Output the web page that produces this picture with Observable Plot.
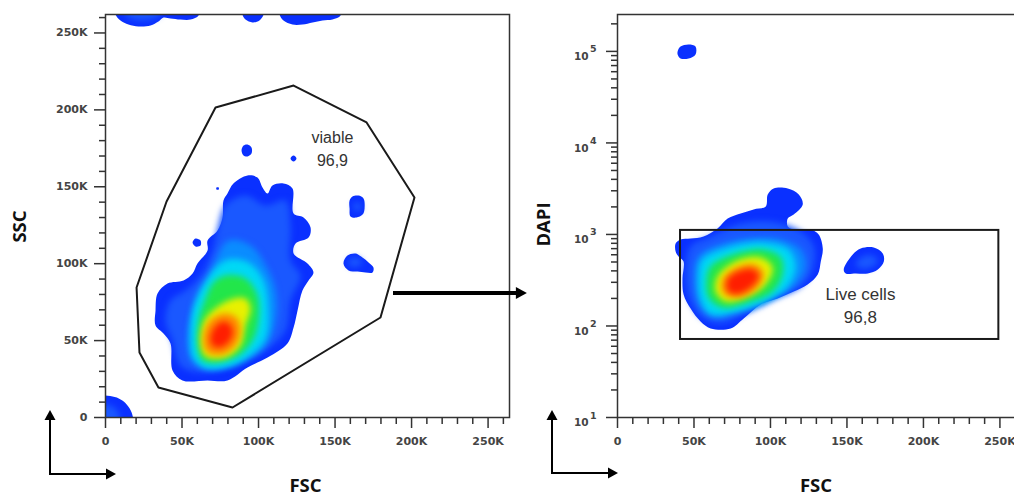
<!DOCTYPE html>
<html><head><meta charset="utf-8">
<script src="https://cdn.jsdelivr.net/npm/d3@7"></script>
<script src="https://cdn.jsdelivr.net/npm/@observablehq/plot@0.6"></script>
<style>
body{margin:0;background:#fff;}
#wrap{position:relative;width:1014px;height:498px;overflow:hidden;background:#fff;}
#wrap > svg{position:absolute;top:0;}
</style></head><body><div id="wrap"></div>
<script>
// ---------- axis ticks (values in thousands for FSC/SSC) ----------
const fscTicks = [0, 50, 100, 150, 200, 250];
const fscTickLabels = ["0", "50K", "100K", "150K", "200K", "250K"];
const sscTicks = [0, 50, 100, 150, 200, 250];
const sscTickLabels = ["0", "50K", "100K", "150K", "200K", "250K"];
const dapiTicks = [10, 100, 1000, 10000, 100000];
const dapiTickBase = "10";
const dapiTickExponents = ["1", "2", "3", "4", "5"];
const axisTitles = ["FSC", "SSC", "DAPI"];

// ---------- left panel: FSC vs SSC ----------
const gateViable = [[71.9,201.5],[122.9,215.8],[170.6,191.8],[201.9,143.0],[179.7,65.0],[83.0,6.5],[34.6,19.5],[22.2,42.3],[20.3,84.5],[39.9,140.4]];
const gateViableLabel = ["viable", "96,9"];
const gateViableLabelAt = [148.3, 175.5];

const leftOuter = [
  [[79.7,145.6],[83.6,152.1],[92.8,157.3],[99.3,156.0],[102.6,149.5],[105.9,145.6],[109.1,150.8],[116.3,152.1],[122.2,148.9],[122.9,132.6],[129.4,130.0],[134.0,123.5],[132.7,117.0],[124.2,113.1],[122.9,106.6],[132.0,100.1],[135.9,94.3],[132.7,89.1],[128.7,82.6],[125.5,69.6],[122.9,58.5],[118.9,48.1],[105.9,39.0],[92.8,32.5],[79.7,24.1],[66.7,24.1],[50.3,24.1],[43.8,30.6],[42.5,48.1],[37.9,54.6],[32.7,59.8],[32.7,69.6],[34.0,80.6],[40.5,87.1],[51.0,89.1],[56.9,93.6],[60.1,100.1],[66.7,108.6],[66.7,115.1],[73.2,121.6],[76.5,130.0],[77.1,141.1]],
  [[88.9,173.6],[90.2,176.8],[92.8,177.5],[95.4,175.5],[95.4,171.6],[92.8,169.7],[90.2,170.3]],
  [[120.9,168.4],[122.9,170.3],[124.8,168.4],[122.9,166.4]],
  [[159.5,141.1],[161.4,143.7],[165.3,144.3],[168.6,142.4],[169.3,135.9],[168.0,131.9],[164.0,130.0],[160.1,130.7],[159.5,135.9]],
  [[155.5,100.1],[158.1,105.3],[163.4,106.6],[167.9,104.0],[171.9,100.8],[175.1,97.5],[174.5,94.3],[169.9,94.3],[164.7,94.9],[158.8,95.6]],
  [[56.9,113.8],[58.8,116.4],[62.1,115.1],[62.1,111.8],[58.8,111.2]],
  [[72.5,149.5],[74.0,149.5],[74.0,148.3],[72.5,148.3]],
  [[-3,-3],[-3,13.5],[6,13.3],[11,11],[15,7],[17.5,2],[17.6,-3]],
  [[6.5,262.0],[9.8,258.1],[15.0,255.5],[21.6,254.2],[29.4,254.8],[34.6,257.4],[37.9,260.0],[42.5,259.4],[49.0,258.7],[55.5,258.7],[60.8,261.3],[60.8,266],[6.5,266]],
  [[89.5,262],[91.5,258.7],[96.1,256.8],[100.6,258.1],[103.3,262],[103.3,266],[89.5,266]],
  [[113.7,262],[116.3,258.1],[122.2,255.5],[128.7,255.5],[135.3,256.8],[141.8,258.1],[148.3,258.7],[153.6,261.3],[153.6,266],[113.7,266]]
];
const leftLevel1 = [
  [[78.4,137.8],[91.5,144.3],[104.6,137.8],[117.6,141.1],[120.9,124.8],[120.9,102.1],[127.4,92.3],[120.9,76.1],[117.6,56.6],[104.6,43.6],[85.0,33.8],[62.1,29.3],[49.0,33.8],[43.8,50.1],[39.2,63.1],[42.5,76.1],[52.3,82.6],[62.1,92.3],[69.9,108.6],[73.8,124.8]],
  [[-3,-3],[-3,8],[4,7.5],[8,4],[9,-3]],
  [[13.1,262],[19.6,258.6],[29.4,258.9],[35.9,262],[35.9,266],[13.1,266]],
  [[162,139],[166,139.5],[167,135],[163,134.5]],
  [[159,102.5],[164,104],[168,101],[164,98],[159,99]]
];
const leftLevel2 = [[[80.4,115.1],[94.8,111.8],[104.6,98.8],[111.1,82.6],[111.1,63.1],[104.6,46.8],[88.2,37.1],[68.6,32.5],[56.9,37.1],[53.6,50.1],[56.9,66.3],[65.4,82.6],[71.9,102.1]]];
const leftLevel3 = [[[78.4,102.1],[93.5,100.8],[103.3,89.1],[106.5,69.6],[104.6,51.4],[94.8,40.3],[81.7,33.2],[65.4,31.9],[57.5,38.4],[55.5,53.3],[57.5,72.8],[65.4,89.1]]];
const leftLevel4 = [[[78.4,92.3],[91.5,90.4],[99.3,79.3],[100.0,63.1],[96.1,50.1],[86.9,40.3],[73.8,35.8],[63.4,37.1],[60.1,46.8],[60.8,63.1],[65.4,77.4],[70.6,87.8]]];
const leftLevel5 = [[[80.4,76.1],[91.5,77.4],[94.8,70.9],[91.5,59.8],[88.2,46.8],[78.4,39.0],[65.4,39.7],[62.1,48.8],[65.4,64.4]]];
const leftLevel6 = [[[77.1,67.6],[85.6,65.0],[88.2,56.6],[85.0,46.8],[76.5,41.0],[66.7,42.3],[64.0,50.1],[67.3,61.8]]];
const leftLevel7 = [[[76.4,62.3],[81.6,60.2],[83.2,55.0],[80.6,49.3],[75.4,45.7],[70.1,46.7],[68.6,51.9],[71.1,58.2]]];

// ---------- right panel: FSC vs DAPI ----------
const gateLive = [41.2, 249.3, 71.2, 1107]; // x1, x2, y1, y2
const gateLiveLabel = ["Live cells", "96,8"];
const gateLiveLabelAt = [158.8, 174];

const rightOuter = [
  [[38.0,797],[41.2,881],[47.8,903],[56.3,951],[65.4,1164],[72.0,1496],[80.5,1698],[89.0,1877],[96.9,2023],[98.2,2736],[102.1,3184],[111.3,3184],[118.5,2736],[121.1,2128],[115.2,1655],[111.3,1496],[111.3,1223],[115.2,1135],[126.3,1135],[131.5,1000],[134.2,703],[132.9,507],[130.9,365],[124.3,284],[115.2,238],[104.7,200],[93.6,172],[82.5,121],[74.0,94],[60.9,94],[54.3,112],[47.8,155],[43.2,221],[42.5,330],[43.2,507],[39.9,575],[38.0,652]],
  [[39.3,100000],[41.2,113400],[46.5,119300],[51.0,113400],[51.0,92700],[46.5,83800],[41.2,83800],[39.3,92700]],
  [[147.9,414],[153.8,604],[159.0,703],[167.5,721],[173.4,620],[174.1,507],[170.2,414],[163.6,375],[155.8,375],[149.2,375]]
];
const rightLevel1 = [
  [[47.8,740],[60.9,951],[80.5,1318],[100.1,1387],[119.8,1079],[128.3,740],[127.6,414],[119.8,270],[103.4,200],[83.8,137],[67.4,106],[54.3,127],[46.5,210],[44.5,394]],
  [[155.8,482],[160.3,575],[166.9,589],[170.2,507],[165.6,436],[159.0,425]]
];
const rightLevel2 = [[[53.0,575],[67.4,778],[87.0,903],[106.7,881],[119.8,686],[123.0,447],[116.5,284],[100.1,200],[80.5,151],[64.1,127],[54.3,163],[50.4,306]]];
const rightLevel3 = [[[55.6,533],[72.6,721],[94.9,818],[111.9,686],[116.5,447],[111.3,270],[96.9,185],[77.2,141],[60.9,134],[54.3,195],[53.0,348]]];
const rightLevel4 = [[[60.9,447],[75.3,604],[94.9,686],[106.7,561],[108.0,375],[101.4,238],[85.7,181],[68.7,159],[59.6,205],[58.2,322]]];
const rightLevel5 = [[[65.4,348],[77.2,507],[93.6,561],[101.4,436],[96.9,284],[83.8,205],[70.7,185],[64.1,238]]];
const rightLevel6 = [[[68.7,322],[77.9,436],[89.7,470],[95.5,375],[91.0,257],[79.2,205],[69.4,226]]];
const rightLevel7 = [[[72.0,322],[79.2,394],[88.4,414],[92.3,356],[88.4,277],[79.2,226],[72.6,238]]];

// ---------- styling ----------
const levelColors = ["#0a30ff", "#1a58ff", "#0a8cff", "#00d8f5", "#22e64a", "#e8f000", "#ff8a00", "#ff1e00"];
const tickFont = "DejaVu Sans, Verdana, sans-serif";
const titleFont = "Open Sans, sans-serif";

function rows(polys, tag) {
  return polys.flatMap((ring, i) => ring.map(([x, y]) => ({x, y, z: tag + i})));
}
function layerMarks(levels) {
  return levels.map((polys, k) => Plot.line(rows(polys, "L" + k + "_"), {
    x: "x", y: "y", z: "z", fill: levelColors[k], stroke: "none",
    curve: "catmull-rom-closed", clip: true,
    imageFilter: k === 0 ? undefined : "blur(3px)"
  }));
}
function minorLinear(major) {
  return d3.range(0, 261, 10).filter(v => !major.includes(v));
}
const logMinor = [];
for (let e = 1; e <= 5; e++) for (let m = 2; m <= 9; m++) {
  const v = m * Math.pow(10, e);
  if (v <= 250000) logMinor.push(v);
}
const axisCommon = {stroke: "#333", strokeWidth: 1.5, label: null};
const labelCommon = {fontFamily: tickFont, fontSize: 11, fontWeight: "bold", fill: "#444"};
const titleStyle = {fontFamily: titleFont, fontWeight: "bold", fontSize: 18.5, fill: "#111", textAnchor: "middle", lineAnchor: "middle"};

// ---------- left plot ----------
const left = Plot.plot({
  width: 530, height: 498,
  marginLeft: 105, marginRight: 21, marginTop: 14, marginBottom: 81,
  x: {domain: [0, 264]},
  y: {domain: [0, 262]},
  style: {background: "transparent", overflow: "visible"},
  marks: [
    ...layerMarks([leftOuter, leftLevel1, leftLevel2, leftLevel3, leftLevel4, leftLevel5, leftLevel6, leftLevel7]),
    Plot.line(gateViable.map(([x, y]) => ({x, y})), {x: "x", y: "y", curve: "linear-closed", stroke: "#1a1a1a", strokeWidth: 2}),
    Plot.text([gateViableLabel.join("\n")], {x: () => gateViableLabelAt[0], y: () => gateViableLabelAt[1], text: d => d, fontFamily: "Liberation Sans, Arial", fontSize: 16, lineHeight: 1.42, fill: "#333", lineAnchor: "middle"}),
    Plot.frame({stroke: "#333", strokeWidth: 1.5}),
    Plot.axisX(minorLinear(fscTicks), {...axisCommon, tickSize: 7, tickFormat: () => ""}),
    Plot.axisX(fscTicks, {...axisCommon, ...labelCommon, tickSize: 11, tickPadding: 9, tickFormat: d => fscTickLabels[fscTicks.indexOf(d)]}),
    Plot.axisY(minorLinear(sscTicks), {...axisCommon, tickSize: 6, tickFormat: () => ""}),
    Plot.axisY(sscTicks, {...axisCommon, ...labelCommon, tickSize: 11, tickPadding: 7, tickFormat: d => sscTickLabels[sscTicks.indexOf(d)]}),
    Plot.text([axisTitles[0]], {...titleStyle, frameAnchor: "bottom", dy: 69, dx: -2}),
    Plot.text([axisTitles[1]], {...titleStyle, frameAnchor: "left", dx: -85, dy: 10.5, rotate: -90})
  ]
});
left.style.left = "0px";

// ---------- right plot ----------
const right = Plot.plot({
  width: 500, height: 498,
  marginLeft: 87, marginRight: 12, marginTop: 14, marginBottom: 81,
  x: {domain: [0, 262.144]},
  y: {type: "log", domain: [10, 253000]},
  style: {background: "transparent", overflow: "visible"},
  marks: [
    ...layerMarks([rightOuter, rightLevel1, rightLevel2, rightLevel3, rightLevel4, rightLevel5, rightLevel6, rightLevel7]),
    Plot.rect([gateLive], {x1: d => d[0], x2: d => d[1], y1: d => d[2], y2: d => d[3], fill: "none", stroke: "#1a1a1a", strokeWidth: 2}),
    Plot.text([gateLiveLabel.join("\n")], {x: () => gateLiveLabelAt[0], y: () => gateLiveLabelAt[1], text: d => d, fontFamily: "Liberation Sans, Arial", fontSize: 17, lineHeight: 1.35, fill: "#333", lineAnchor: "middle"}),
    Plot.frame({stroke: "#333", strokeWidth: 1.5}),
    Plot.axisX(minorLinear(fscTicks), {...axisCommon, tickSize: 7, tickFormat: () => ""}),
    Plot.axisX(fscTicks, {...axisCommon, ...labelCommon, tickSize: 11, tickPadding: 9, tickFormat: d => fscTickLabels[fscTicks.indexOf(d)]}),
    Plot.axisY(logMinor, {...axisCommon, tickSize: 6, tickFormat: () => ""}),
    Plot.axisY(dapiTicks, {...axisCommon, tickSize: 11, tickFormat: () => ""}),
    Plot.text(dapiTicks, {y: d => d, frameAnchor: "left", dx: -29, dy: 5.5, text: () => dapiTickBase, textAnchor: "end", lineAnchor: "middle", fontFamily: tickFont, fontSize: 10.5, fontWeight: "bold", fill: "#444"}),
    Plot.text(dapiTicks, {y: d => d, frameAnchor: "left", dx: -27.5, dy: -2, text: (d, i) => dapiTickExponents[i], textAnchor: "start", lineAnchor: "middle", fontFamily: tickFont, fontSize: 9.5, fontWeight: "bold", fill: "#444"}),
    Plot.text([axisTitles[0]], {...titleStyle, frameAnchor: "bottom", dy: 69, dx: -2}),
    Plot.text([axisTitles[2]], {...titleStyle, frameAnchor: "left", dx: -73, dy: 8.5, rotate: -90})
  ]
});
right.style.left = "530px";

const wrap = document.getElementById("wrap");
wrap.appendChild(left);
wrap.appendChild(right);

// ---------- decorative arrows ----------
const ov = d3.select(wrap).append("svg")
  .attr("width", 1014).attr("height", 498)
  .style("left", "0px").style("pointer-events", "none");
const ink = "#000";
function arrow(x1, y1, x2, y2, w, head) {
  ov.append("line").attr("x1", x1).attr("y1", y1).attr("x2", x2).attr("y2", y2)
    .attr("stroke", ink).attr("stroke-width", w);
  const ang = Math.atan2(y2 - y1, x2 - x1);
  const L = head, W = head * 0.55;
  const tx = x2 + Math.cos(ang) * L * 0.9, ty = y2 + Math.sin(ang) * L * 0.9;
  const bx = x2 - Math.cos(ang) * L * 0.1, by = y2 - Math.sin(ang) * L * 0.1;
  const px = -Math.sin(ang) * W, py = Math.cos(ang) * W;
  ov.append("path").attr("d", `M${tx},${ty}L${bx + px},${by + py}L${bx - px},${by - py}Z`).attr("fill", ink);
}
arrow(393, 293, 517, 293, 4, 11);
arrow(50, 475, 50, 419, 2, 10);
arrow(49, 474, 107, 474, 2, 10);
arrow(552, 473, 552, 419, 2, 10);
arrow(551, 473, 609, 473, 2, 10);
</script></body></html>
